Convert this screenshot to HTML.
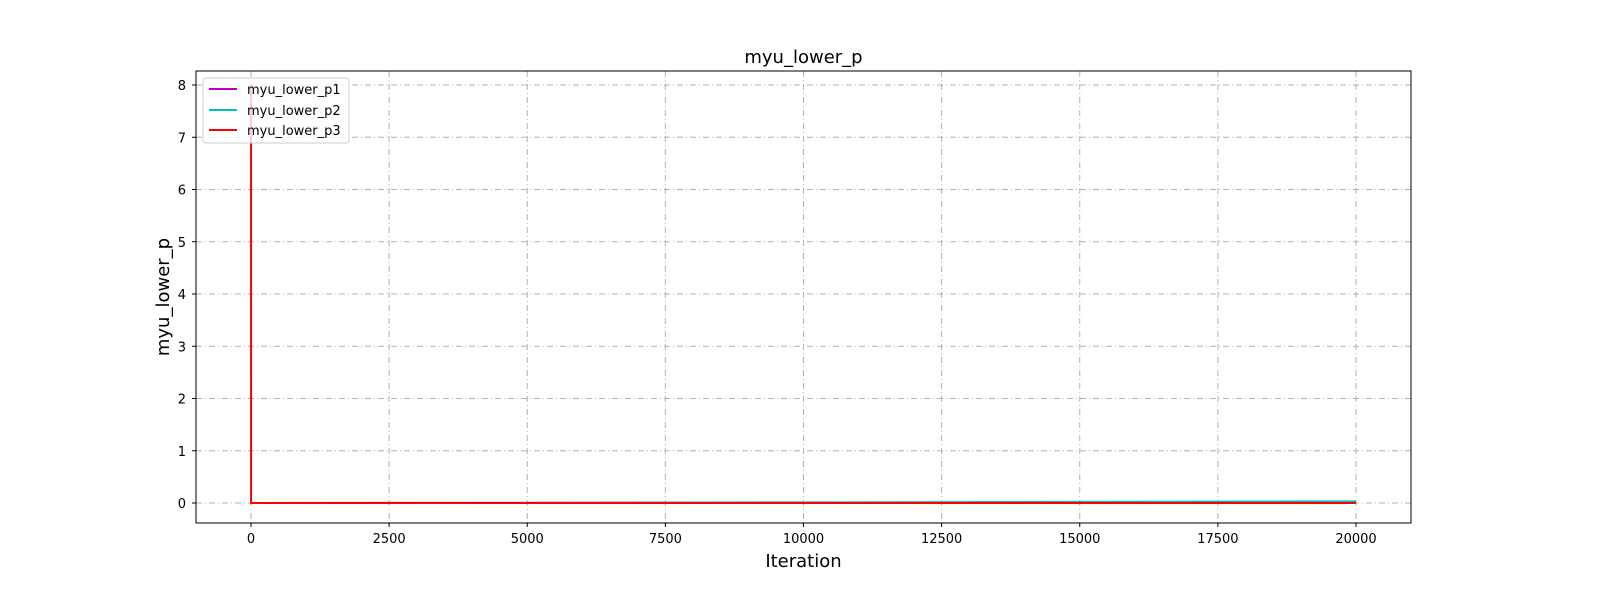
<!DOCTYPE html>
<html><head><meta charset="utf-8"><style>
body{margin:0;background:#fff;font-family:"Liberation Sans","DejaVu Sans",sans-serif;}
svg text{font-family:"DejaVu Sans","Liberation Sans",sans-serif;}
</style></head><body>
<svg id="chart" width="1600" height="600" xmlns="http://www.w3.org/2000/svg">
<rect width="1600" height="600" fill="#fff"/>
<g id="grid"></g>
<g id="series"></g>
<rect x="196" y="71" width="1215" height="452" fill="none" stroke="#000" stroke-width="1"/>
<g id="ticks"></g>
<text x="803.5" y="63" font-size="18" text-anchor="middle">myu_lower_p</text>
<text x="803.5" y="567" font-size="18" text-anchor="middle">Iteration</text>
<text x="169" y="297" font-size="18" text-anchor="middle" transform="rotate(-90 169 297)">myu_lower_p</text>
<g>
<rect x="203" y="78" width="146" height="65" rx="3" fill="#fff" fill-opacity="0.8" stroke="#ccc"/>
<line x1="209" y1="89" x2="237" y2="89" stroke="#bf00bf" stroke-width="2"/>
<text x="247" y="94" font-size="13">myu_lower_p1</text>
<line x1="209" y1="110" x2="237" y2="110" stroke="#00bfbf" stroke-width="2"/>
<text x="247" y="115" font-size="13">myu_lower_p2</text>
<line x1="209" y1="130" x2="237" y2="130" stroke="#ff0000" stroke-width="2"/>
<text x="247" y="135" font-size="13">myu_lower_p3</text>
</g>
</svg>
<script>
const iterations=[0,1,5000,10000,15000,20000];
const p1=[0,0,0.003,0.006,0.01,0.015];
const p2=[0,0,0.005,0.012,0.022,0.032];
const p3=[8,0,0,0,0,0];
const xTicks=[0,2500,5000,7500,10000,12500,15000,17500,20000];
const yTicks=[0,1,2,3,4,5,6,7,8];
const NS="http://www.w3.org/2000/svg";
function sx(v){return 251+v*(1356-251)/20000;}
function sy(v){return 503-v*(503-85)/8;}
const grid=document.getElementById('grid'),ticks=document.getElementById('ticks'),ser=document.getElementById('series');
function mk(tag,attrs,parent){const e=document.createElementNS(NS,tag);for(const k in attrs)e.setAttribute(k,attrs[k]);parent.appendChild(e);return e;}
xTicks.forEach(t=>{const x=sx(t);
const g=mk('line',{x1:x,x2:x,y1:71,y2:523,stroke:'#b0b0b0','stroke-dasharray':'6,3,1,3'},grid);


mk('line',{x1:x,x2:x,y1:523,y2:527,stroke:'#000'},ticks);
const tx=mk('text',{x:x,y:543,'font-size':13,'text-anchor':'middle'},ticks);tx.textContent=t;

});
yTicks.forEach(t=>{const y=sy(t);
const g=mk('line',{x1:196,x2:1411,y1:y,y2:y,stroke:'#b0b0b0','stroke-dasharray':'6,3,1,3'},grid);


mk('line',{x1:192,x2:196,y1:y,y2:y,stroke:'#000'},ticks);
const tx=mk('text',{x:186,y:y+5,'font-size':13,'text-anchor':'end'},ticks);tx.textContent=t;

});
[[p1,'#bf00bf','series-p1'],[p2,'#00bfbf','series-p2'],[p3,'#ff0000','series-p3']].forEach(([d,c,n])=>{
const pts=iterations.map((it,i)=>sx(it).toFixed(2)+','+sy(d[i]).toFixed(2)).join(' ');
const pl=mk('polyline',{points:pts,fill:'none',stroke:c,'stroke-width':2},ser);

});
</script>
</body></html>
